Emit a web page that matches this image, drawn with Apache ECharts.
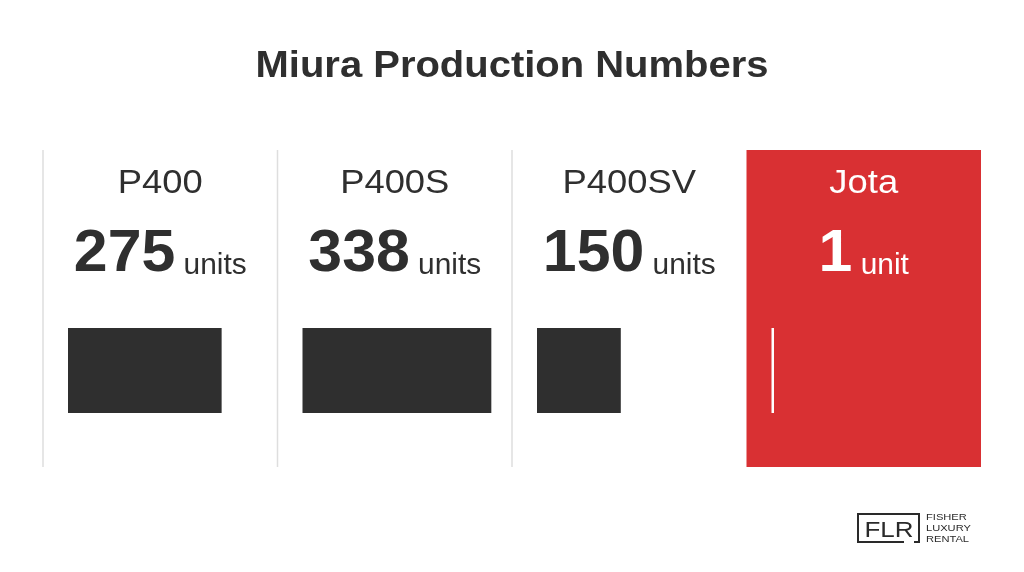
<!DOCTYPE html>
<html>
<head>
<meta charset="utf-8">
<script src="https://cdn.jsdelivr.net/npm/echarts@6/dist/echarts.min.js"></script>
<style>
html,body{margin:0;padding:0;background:#fff;}
#chart{width:1024px;height:572px;}
</style>
</head>
<body>
<div id="chart"></div>
<script>
// ---- data ----
const titleText = 'Miura Production Numbers';
const models = ['P400', 'P400S', 'P400SV', 'Jota'];
const units = [275, 338, 150, 1];
const unitLabels = ['units', 'units', 'units', 'unit'];
const highlighted = [false, false, false, true];
const logoMark = 'FLR';
const logoLines = ['FISHER', 'LUXURY', 'RENTAL'];

// ---- layout / style ----
const FONT = '"Liberation Sans", Arial, Helvetica, sans-serif';
const DARK = '#2f2f2f';
const RED = '#d93033';
const panelX0 = 43, panelW = 234.5, panelTop = 150, panelBottom = 467;
const gridTop = 328, gridH = 85, gridW = 200, gridOffset = 25;
const axisMax = 358;

const chart = echarts.init(document.getElementById('chart'), null, {renderer: 'canvas'});

const grids = [], xAxes = [], yAxes = [], series = [], graphics = [];

// title
graphics.push({
  type: 'text', x: 512, y: 67, scaleX: 1.08, z: 10,
  style: {text: titleText, fill: DARK, fontFamily: FONT, fontSize: 37, fontWeight: 'bold', align: 'center', verticalAlign: 'middle'}
});

models.forEach((m, i) => {
  const px = panelX0 + i * panelW;
  const cx = px + panelW / 2;
  const hi = highlighted[i];
  const fg = hi ? '#ffffff' : DARK;

  if (hi) {
    graphics.push({type: 'rect', z: -10, shape: {x: px, y: panelTop, width: panelW, height: panelBottom - panelTop}, style: {fill: RED}});
  } else {
    graphics.push({type: 'line', z: -5, shape: {x1: px, y1: panelTop, x2: px, y2: panelBottom}, style: {stroke: '#dedede', lineWidth: 1.5}});
  }

  graphics.push({
    type: 'text', x: cx, y: 184, scaleX: 1.07, z: 10,
    style: {text: m, fill: fg, fontFamily: FONT, fontSize: 34, fontWeight: 'normal', align: 'center', verticalAlign: 'middle'}
  });
  graphics.push({
    type: 'text', x: cx, y: 284, scaleX: 1.03, z: 10,
    style: {
      text: '{n|' + units[i] + '}{u| ' + unitLabels[i] + '}',
      align: 'center', verticalAlign: 'bottom',
      rich: {
        n: {fill: fg, fontFamily: FONT, fontSize: 59, fontWeight: 'bold', verticalAlign: 'bottom', lineHeight: 59},
        u: {fill: fg, fontFamily: FONT, fontSize: 29, fontWeight: 'normal', verticalAlign: 'bottom', lineHeight: 29, padding: [0, 0, 4, 0]}
      }
    }
  });

  grids.push({left: px + gridOffset, top: gridTop, width: gridW, height: gridH, containLabel: false});
  xAxes.push({gridIndex: i, type: 'value', min: 0, max: axisMax, show: false});
  yAxes.push({gridIndex: i, type: 'category', data: [m], show: false});
  series.push({
    type: 'bar', xAxisIndex: i, yAxisIndex: i,
    data: [units[i]], barWidth: '100%', barMinHeight: 2.5,
    itemStyle: {color: hi ? '#ffffff' : DARK},
    silent: true, animation: false
  });
});

// logo
const LOGO = '#2a2a2a';
graphics.push({type: 'polyline', shape: {points: [[906, 514], [858, 514], [858, 542], [904, 542]]}, style: {stroke: LOGO, lineWidth: 2, fill: null}});
graphics.push({type: 'polyline', shape: {points: [[906, 514], [919, 514], [919, 542], [914, 542]]}, style: {stroke: LOGO, lineWidth: 2, fill: null}});
graphics.push({type: 'text', x: 889, y: 531, scaleX: 1.18, style: {text: logoMark, fill: LOGO, fontFamily: FONT, fontSize: 22, fontWeight: 'normal', align: 'center', verticalAlign: 'middle'}});
logoLines.forEach((t, k) => {
  graphics.push({type: 'text', x: 926, y: 517 + k * 11.3, scaleX: 1.17, style: {text: t, fill: LOGO, fontFamily: FONT, fontSize: 9.5, align: 'left', verticalAlign: 'middle'}});
});

chart.setOption({
  backgroundColor: '#ffffff',
  animation: false,
  grid: grids, xAxis: xAxes, yAxis: yAxes, series: series,
  graphic: graphics
});
</script>
</body>
</html>
